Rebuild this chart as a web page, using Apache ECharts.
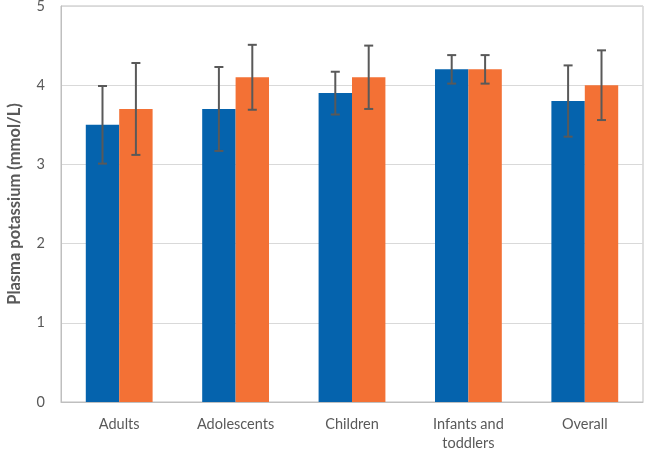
<!DOCTYPE html>
<html><head><meta charset="utf-8">
<script src="https://cdn.jsdelivr.net/npm/echarts@6/dist/echarts.min.js"></script>
<style>html,body{margin:0;padding:0;background:#fff}#c{width:649px;height:449px}</style>
</head><body><div id="c"></div>
<script>
const categories = ['Adults', 'Adolescents', 'Children', 'Infants and\ntoddlers', 'Overall'];
const blueValues = [3.5, 3.7, 3.9, 4.2, 3.8];
const blueErrors = [0.49, 0.53, 0.27, 0.18, 0.45];
const orangeValues = [3.7, 4.1, 4.1, 4.2, 4.0];
const orangeErrors = [0.58, 0.41, 0.40, 0.18, 0.44];
const yTicks = [0, 1, 2, 3, 4, 5];

const GAP = 0.426;
function errData(vals, errs) {
  return vals.map((v, i) => [i, v - errs[i], v + errs[i]]);
}
function errSeries(vals, errs, side) {
  return {
    type: 'custom', z: 10,
    data: errData(vals, errs),
    encode: { x: 0, y: [1, 2] },
    renderItem: function (params, api) {
      const idx = api.value(0);
      const catW = api.size([1, 0])[0];
      const barW = catW * (1 - GAP) / 2;
      const lo = api.coord([idx, api.value(1)]);
      const hi = api.coord([idx, api.value(2)]);
      const x = lo[0] + side * barW / 2;
      const cap = 4.5;
      const style = { stroke: '#595959', lineWidth: 2 };
      return { type: 'group', children: [
        { type: 'line', shape: { x1: x, y1: lo[1], x2: x, y2: hi[1] }, style: style },
        { type: 'line', shape: { x1: x - cap, y1: lo[1], x2: x + cap, y2: lo[1] }, style: style },
        { type: 'line', shape: { x1: x - cap, y1: hi[1], x2: x + cap, y2: hi[1] }, style: style }
      ]};
    }
  };
}

const chart = echarts.init(document.getElementById('c'));
chart.setOption({
  animation: false,
  textStyle: { fontFamily: 'Lato, "Open Sans", sans-serif' },
  grid: { left: 61, right: 6, top: 6, bottom: 47, containLabel: false, outerBoundsMode: 'none',
          show: true, borderColor: '#bfbfbf', borderWidth: 1 },
  xAxis: {
    type: 'category', data: categories,
    axisLine: { lineStyle: { color: '#bfbfbf' } },
    axisTick: { show: false },
    axisLabel: { color: '#595959', fontSize: 14.5, margin: 13, lineHeight: 19 }
  },
  yAxis: {
    type: 'value', min: 0, max: 5, interval: 1,
    name: 'Plasma potassium (mmol/L)', nameLocation: 'middle', nameGap: 38,
    nameTextStyle: { color: '#595959', fontSize: 16.5, fontWeight: 'bold' },
    axisLine: { show: true, lineStyle: { color: '#bfbfbf' } },
    axisLabel: { color: '#595959', fontSize: 14.5, margin: 16, formatter: v => yTicks.includes(v) ? String(v) : '' },
    splitLine: { lineStyle: { color: '#d9d9d9' } }
  },
  series: [
    { type: 'bar', data: blueValues, itemStyle: { color: '#0563ad' }, barGap: '0%', barCategoryGap: (GAP * 100) + '%' },
    { type: 'bar', data: orangeValues, itemStyle: { color: '#f37135' }, barGap: '0%', barCategoryGap: (GAP * 100) + '%' },
    errSeries(blueValues, blueErrors, -1),
    errSeries(orangeValues, orangeErrors, 1)
  ]
});
</script></body></html>
